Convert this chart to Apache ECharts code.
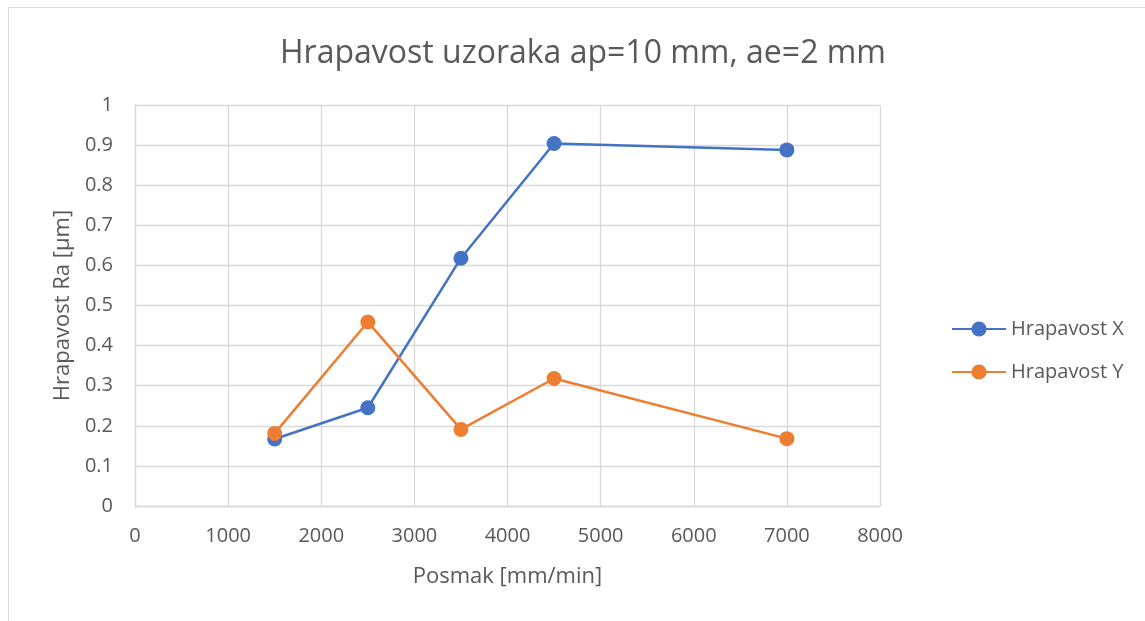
<!DOCTYPE html>
<html><head><meta charset="utf-8">
<script src="https://cdn.jsdelivr.net/npm/echarts@6/dist/echarts.min.js"></script>
<style>html,body{margin:0;padding:0;background:#fff}#c{width:1145px;height:621px}</style>
</head><body><div id="c"></div>
<script>
const xValues = [1500, 2500, 3500, 4500, 7000];
const seriesX = [0.167, 0.245, 0.618, 0.904, 0.888];
const seriesY = [0.181, 0.459, 0.191, 0.318, 0.168];
const seriesNames = ['Hrapavost X', 'Hrapavost Y'];
const colors = ['#4472C4', '#ED7D31'];
const FONT = 'Open Sans';
const chart = echarts.init(document.getElementById('c'), null, {renderer: 'canvas'});
function pairs(v){ return xValues.map((x,i)=>[x, v[i]]); }
chart.setOption({
  backgroundColor: '#fff',
  animation: false,
  title: {text: 'Hrapavost uzoraka ap=10 mm, ae=2 mm', left: 578, top: 33, textAlign: 'center',
    textStyle: {fontFamily: FONT, fontSize: 32, fontWeight: 'normal', color: '#595959'}},
  grid: {left: 135, right: 265, top: 105, bottom: 115},
  legend: {orient: 'vertical', left: 946, top: 314, itemGap: 23, itemWidth: 54, itemHeight: 19,
    textStyle: {fontFamily: FONT, fontSize: 20, color: '#595959'},
    data: seriesNames},
  xAxis: {type: 'value', min: 0, max: 8000, interval: 1000,
    name: 'Posmak [mm/min]', nameLocation: 'middle', nameGap: 60,
    nameTextStyle: {fontFamily: FONT, fontSize: 22, color: '#595959'},
    axisLine: {lineStyle: {color: '#d9d9d9', width: 1.3}}, axisTick: {show: false},
    axisLabel: {fontFamily: FONT, fontSize: 20, color: '#595959', margin: 20,
      formatter: v => String(v)},
    splitLine: {lineStyle: {color: '#d9d9d9', width: 1.3}}},
  yAxis: {type: 'value', min: 0, max: 1, interval: 0.1,
    name: 'Hrapavost Ra [µm]', nameLocation: 'middle', nameGap: 58, nameRotate: 90,
    nameTextStyle: {fontFamily: FONT, fontSize: 22, color: '#595959'},
    axisLine: {show: true, lineStyle: {color: '#d9d9d9', width: 1.3}}, axisTick: {show: false},
    axisLabel: {fontFamily: FONT, fontSize: 20, color: '#595959', margin: 22,
      formatter: v => String(Math.round(v*10)/10)},
    splitLine: {lineStyle: {color: '#d9d9d9', width: 1.3}}},
  series: [
    {name: seriesNames[0], type: 'line', data: pairs(seriesX), symbol: 'circle', symbolSize: 15,
     itemStyle: {color: colors[0]}, lineStyle: {color: colors[0], width: 2.5}},
    {name: seriesNames[1], type: 'line', data: pairs(seriesY), symbol: 'circle', symbolSize: 15,
     itemStyle: {color: colors[1]}, lineStyle: {color: colors[1], width: 2.5}}
  ],
  graphic: [{type: 'rect', shape: {x: 8.5, y: 7.5, width: 1160, height: 640}, silent: true,
    style: {fill: null, stroke: '#d9d9d9', lineWidth: 1}}]
});
</script></body></html>
